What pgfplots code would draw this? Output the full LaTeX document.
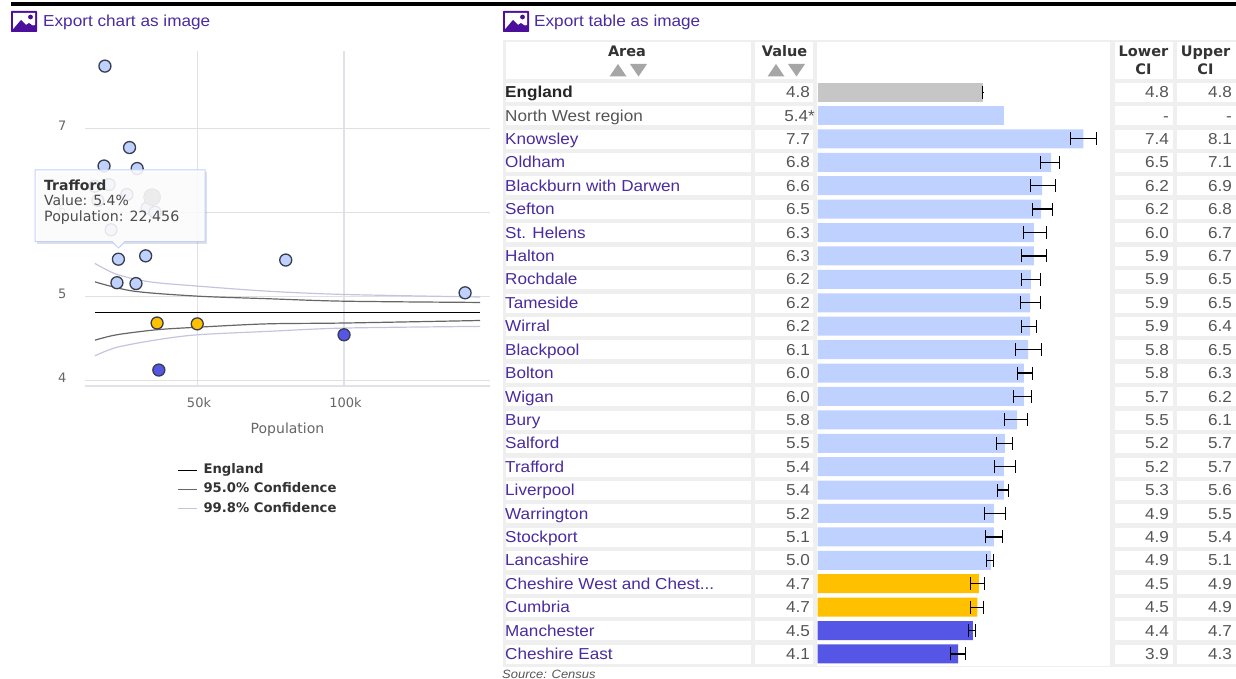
\documentclass[border=0pt]{standalone}
\usepackage{fontspec}
\usepackage{pgfplots}
\pgfplotsset{compat=1.18}
\setmainfont{Liberation Sans}
\newfontfamily\tablefont[FakeStretch=1.08]{Liberation Sans}
\newfontfamily\chartfont{DejaVu Sans}
\definecolor{linkc}{HTML}{4A2BA0}
\definecolor{txt}{HTML}{555555}
\definecolor{cellg}{HTML}{EFEFEF}
\definecolor{barb}{HTML}{BFD2FF}
\definecolor{bary}{HTML}{FFC000}
\definecolor{bard}{HTML}{5555E6}
\definecolor{barg}{HTML}{C6C6C6}
\definecolor{edge}{HTML}{3A3D4C}
\definecolor{conf}{HTML}{C4C4E0}
\definecolor{iconp}{HTML}{4B0F9C}
\definecolor{vgrid}{HTML}{E0E2E8}
\newcommand\fs[1]{\fontsize{#1}{#1}\selectfont}
\newcommand\chest{Cheshire West and Chest...}
\newcommand\icon[2]{%
  \begin{scope}[shift={(#1,#2)}]
    \fill[iconp,rounded corners=0.6pt] (0,0) rectangle (26,-21);
    \fill[white] (2,-2) rectangle (24,-13);
    \fill[white] (2,-2) -- (24,-2) -- (24,-14) -- (2,-19) -- cycle;
    \fill[iconp] (1,-19.5) -- (10,-9) -- (15,-14) -- (18,-12) -- (25,-17) -- (25,-21) -- (1,-21) -- cycle;
    \fill[iconp] (19.5,-6) circle (2.4);
  \end{scope}}
\begin{document}
\begin{tikzpicture}[x=1pt,y=1pt]
\path[use as bounding box] (0,0) rectangle (1236,679);
% top rule
\fill[black] (10.5,679-2) rectangle (1236,679-6.5);
% export links
\icon{11}{668}
\icon{503}{668}
\node[anchor=base west,inner sep=0,text=linkc] at (43,679-27) {\tablefont\fs{15.9}Export chart as image};
\node[anchor=base west,inner sep=0,text=linkc] at (534,679-27) {\tablefont\fs{15.9}Export table as image};
% table chrome
\fill[cellg] (503,679-40) rectangle (1236,679-667);
\fill[white] (817,679-42) rectangle (1110,679-666);
\fill[white] (505.5,679-42.3) rectangle (751,679-79);
\fill[white] (755,679-42.3) rectangle (813,679-79);
\fill[white] (1115,679-42.3) rectangle (1172.8,679-79);
\fill[white] (1177,679-42.3) rectangle (1236,679-79);
\foreach \n/\v/\l/\u [count=\i from 0] in {%
England/4.8/4.8/4.8,North West region/5.4*/-/-,Knowsley/7.7/7.4/8.1,Oldham/6.8/6.5/7.1,
Blackburn with Darwen/6.6/6.2/6.9,Sefton/6.5/6.2/6.8,St. Helens/6.3/6.0/6.7,Halton/6.3/5.9/6.7,
Rochdale/6.2/5.9/6.5,Tameside/6.2/5.9/6.5,Wirral/6.2/5.9/6.4,Blackpool/6.1/5.8/6.5,
Bolton/6.0/5.8/6.3,Wigan/6.0/5.7/6.2,Bury/5.8/5.5/6.1,Salford/5.5/5.2/5.7,Trafford/5.4/5.2/5.7,
Liverpool/5.4/5.3/5.6,Warrington/5.2/4.9/5.5,Stockport/5.1/4.9/5.4,Lancashire/5.0/4.9/5.1,
\chest/4.7/4.5/4.9,Cumbria/4.7/4.5/4.9,Manchester/4.5/4.4/4.7,Cheshire East/4.1/3.9/4.3}{
  \pgfmathsetmacro\yc{679-(92.3+23.42*\i)}
  \fill[white] (505.5,\yc-9.5) rectangle (751,\yc+9.5);
  \fill[white] (755,\yc-9.5) rectangle (813,\yc+9.5);
  \fill[white] (1115,\yc-9.5) rectangle (1172.8,\yc+9.5);
  \fill[white] (1177,\yc-9.5) rectangle (1236,\yc+9.5);
  \ifnum\i=0 \def\ncol{black!85}\def\nf{\bfseries}\else\ifnum\i=1 \def\ncol{txt}\def\nf{}\else\def\ncol{linkc}\def\nf{}\fi\fi
  \node[anchor=base west,inner sep=0,text=\ncol] at (505,\yc-5.3) {\tablefont\fs{15.85}\nf\n};
  \ifnum\i=1
    \node[anchor=base east,inner sep=0,text=txt] at (815,\yc-5.3) {\tablefont\fs{15.85}\v};
  \else
    \node[anchor=base east,inner sep=0,text=txt] at (810,\yc-5.3) {\tablefont\fs{15.85}\v};
  \fi
  \node[anchor=base east,inner sep=0,text=txt] at (1169,\yc-5.3) {\tablefont\fs{15.85}\l};
  \node[anchor=base east,inner sep=0,text=txt] at (1232,\yc-5.3) {\tablefont\fs{15.85}\u};
}
% header
\node[anchor=base,inner sep=0,text=black!80] at (627,679-57) {\chartfont\bfseries\fs{14.5}Area};
\node[anchor=base,inner sep=0,text=black!80] at (784.5,679-57) {\chartfont\bfseries\fs{14.5}Value};
\node[anchor=base,inner sep=0,text=black!80] at (1143.5,679-57) {\chartfont\bfseries\fs{14.5}Lower};
\node[anchor=base,inner sep=0,text=black!80] at (1143.5,679-75) {\chartfont\bfseries\fs{14.5}CI};
\node[anchor=base,inner sep=0,text=black!80] at (1205.5,679-57) {\chartfont\bfseries\fs{14.5}Upper};
\node[anchor=base,inner sep=0,text=black!80] at (1205.5,679-75) {\chartfont\bfseries\fs{14.5}CI};
\foreach \a in {609.5,767.5}{
  \fill[black!35] (\a,679-76.5) -- (\a+17,679-76.5) -- (\a+8.5,679-64) -- cycle;
  \fill[black!35] (\a+20.5,679-64) -- (\a+37.5,679-64) -- (\a+29,679-76.5) -- cycle;
}
\node[anchor=base west,inner sep=0,text=txt] at (502,679-678.5) {\tablefont\itshape\fs{12}Source: Census};

% bars
\begin{axis}[at={(817.5pt,13.3pt)},anchor=south west,scale only axis,width=292.5pt,height=585.4pt,
  xmin=0,xmax=8.503,ymin=-0.5,ymax=24.5,y dir=reverse,hide axis,clip=false,
  xbar,bar width=19pt,bar shift=0pt,
  error bars/x dir=both,error bars/x explicit,
  error bars/error mark=|,
  error bars/error bar style={black,line width=1.3pt},
  error bars/error mark options={black,mark size=6.5pt,line width=1pt}]
\addplot[draw=none,fill=barg,error bars/error bar style={black,line width=1pt}] table[x=v,y=r,x error plus=p,x error minus=m] {
r v p m
0 4.80 0.005 0.005
};
\addplot[draw=none,fill=barb,error bars/x dir=none] table[x=v,y=r] {
r v
1 5.42
};
\addplot[draw=none,fill=barb] table[x=v,y=r,x error plus=p,x error minus=m] {
r v p m
2 7.73 0.39 0.38
3 6.79 0.25 0.31
4 6.53 0.40 0.34
5 6.50 0.32 0.25
6 6.29 0.37 0.30
7 6.29 0.38 0.37
8 6.20 0.27 0.28
9 6.18 0.29 0.29
10 6.18 0.20 0.26
11 6.12 0.38 0.35
12 6.00 0.24 0.20
13 6.00 0.21 0.29
14 5.80 0.29 0.35
15 5.45 0.21 0.24
16 5.42 0.33 0.27
17 5.42 0.14 0.18
18 5.13 0.33 0.28
19 5.13 0.24 0.25
20 5.04 0.08 0.13
};
\addplot[draw=none,fill=bary] table[x=v,y=r,x error plus=p,x error minus=m] {
r v p m
21 4.69 0.17 0.24
22 4.65 0.18 0.20
};
\addplot[draw=none,fill=bard] table[x=v,y=r,x error plus=p,x error minus=m] {
r v p m
23 4.52 0.08 0.12
24 4.09 0.22 0.22
};
\end{axis}

% scatter
\begin{axis}[at={(85pt,293pt)},anchor=south west,scale only axis,width=405pt,height=335pt,
  xmin=11.6,xmax=149.8,ymin=3.93,ymax=7.92,clip=false,
  axis x line=bottom,axis y line=left,
  x axis line style={-,color=vgrid,line width=1.4pt},
  y axis line style={draw=none},
  major tick length=0pt,
  xtick={50,100},xticklabels={50k,100k},ytick={4,5,6,7},yticklabels={4,5,6,7},
  xmajorgrids,ymajorgrids,
  major x grid style={color=vgrid,line width=1.7pt},
  major y grid style={color=black!12,line width=0.9pt},
  xticklabel style={text=black!60,font=\chartfont\fs{13},yshift=-8pt,xshift=1.5pt},
  yticklabel style={text=black!60,font=\chartfont\fs{13},xshift=-15pt,yshift=2pt},
  xlabel={Population},
  xlabel style={at={(axis description cs:0.5,-0.13)},anchor=center,text=black!60,font=\chartfont\fs{14}},
  legend cell align=left,
  legend style={draw=none,fill=none,at={(axis description cs:0.227,-0.2255)},anchor=north west,
    inner sep=0pt,row sep=2.2pt,font=\chartfont\bfseries\fs{13.2},
    nodes={text=black!80,text height=10pt,text depth=3pt,inner xsep=6pt,inner ysep=2pt}},
  legend image code/.code={\draw[#1,line width=1.4pt] (0,0) -- (19pt,0);}]
\addplot[black,line width=1pt] table {
15 4.81
146.4 4.81
};
\addlegendentry{England}
\addplot[black!60,line width=1.2pt,smooth] table {
15 5.17
28.1 5.06
50 5.00
73.6 4.97
100 4.94
146.4 4.925
};
\addlegendentry{95.0\% Confidence}
\addplot[conf,line width=1.2pt,smooth] table {
15 5.39
22.4 5.26
33.8 5.17
50 5.12
73.6 5.06
100 5.02
146.4 4.99
};
\addlegendentry{99.8\% Confidence}
\addplot[black!60,line width=1.2pt,smooth,forget plot] table {
15 4.476
22.4 4.54
36.1 4.60
50 4.63
73.6 4.67
100 4.68
146.4 4.71
};
\addplot[conf,line width=1.2pt,smooth,forget plot] table {
15 4.29
22.4 4.39
36.1 4.48
50 4.54
73.6 4.58
100 4.62
146.4 4.64
};
\addplot[only marks,mark=*,mark size=6pt,mark options={draw=edge,fill=barb,line width=1.3pt},forget plot] table {
18.4 7.74
26.8 6.77
18.1 6.55
29.4 6.52
14.9 6.31
19.8 6.33
25.9 6.21
16.0 6.14
32.8 6.05
35.5 6.00
20.5 5.79
23.0 5.44
32.3 5.48
80.1 5.43
22.5 5.16
29.0 5.15
141.3 5.04
};
\addplot[only marks,mark=*,mark size=8.5pt,mark options={draw=none,fill=black!55},forget plot] table {
34.5 6.18
};
\addplot[only marks,mark=*,mark size=6pt,mark options={draw=edge,fill=bary,line width=1.3pt},forget plot] table {
36.2 4.68
49.9 4.67
};
\addplot[only marks,mark=*,mark size=6pt,mark options={draw=edge,fill=bard,line width=1.3pt},forget plot] table {
100 4.54
36.8 4.12
};
\end{axis}

% tooltip
\fill[black,opacity=0.12] (37,679-172) rectangle (207,679-244);
\path[fill=white,fill opacity=0.88,draw=barb,line width=1pt]
  (35,679-170) -- (205,679-170) -- (205,679-241.7) -- (125,679-241.7) -- (118.5,679-248) -- (112,679-241.7) -- (35,679-241.7) -- cycle;
\node[anchor=base west,inner sep=0,text=black!80] at (44,679-191) {\chartfont\bfseries\fs{14}Trafford};
\node[anchor=base west,inner sep=0,text=black!70] at (44,679-206) {\chartfont\fs{14}Value: 5.4\%};
\node[anchor=base west,inner sep=0,text=black!70] at (44,679-222) {\chartfont\fs{14.2}Population: 22,456};
\end{tikzpicture}
\end{document}
